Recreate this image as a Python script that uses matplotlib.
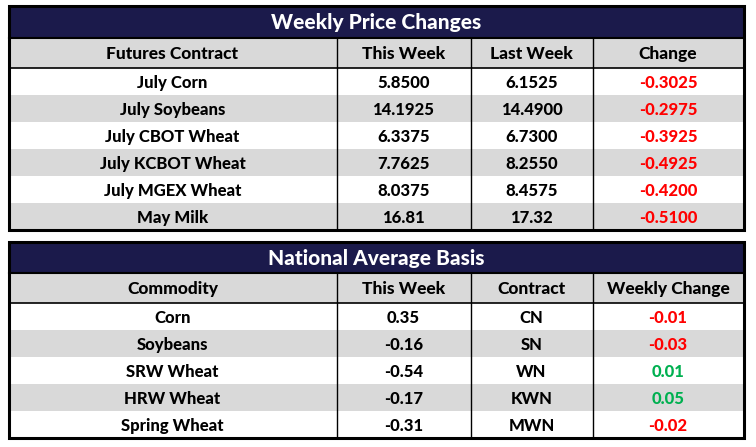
import matplotlib.pyplot as plt
from matplotlib.patches import Rectangle

# table 1 data
t1_title = "Weekly Price Changes"
t1_header = ["Futures Contract", "This Week", "Last Week", "Change"]
t1_contracts = ["July Corn", "July Soybeans", "July CBOT Wheat", "July KCBOT Wheat",
                "July MGEX Wheat", "May Milk"]
t1_this_week = ["5.8500", "14.1925", "6.3375", "7.7625", "8.0375", "16.81"]
t1_last_week = ["6.1525", "14.4900", "6.7300", "8.2550", "8.4575", "17.32"]
t1_change = [-0.3025, -0.2975, -0.3925, -0.4925, -0.4200, -0.5100]

# table 2 data
t2_title = "National Average Basis"
t2_header = ["Commodity", "This Week", "Contract", "Weekly Change"]
t2_commodity = ["Corn", "Soybeans", "SRW Wheat", "HRW Wheat", "Spring Wheat"]
t2_this_week = ["0.35", "-0.16", "-0.54", "-0.17", "-0.31"]
t2_contract = ["CN", "SN", "WN", "KWN", "MWN"]
t2_change = [-0.01, -0.03, 0.01, 0.05, -0.02]

NAVY = "#1b1a4b"
GRAY = "#d9d9d9"
RED = "#ff0000"
GREEN = "#00b050"
FONT = ["Lato", "DejaVu Sans"]
WEIGHT = 900

W, H = 756, 447
fig = plt.figure(figsize=(W / 100, H / 100), dpi=100)
ax = fig.add_axes([0, 0, 1, 1])
ax.set_xlim(0, W)
ax.set_ylim(H, 0)
ax.axis("off")

xcols = [8.5, 336.5, 470.5, 592.5, 743.5]


def draw_table(top, title_h, head_h, row_h, title, header, columns, change_fmt):
    left, right = xcols[0], xcols[-1]
    nrows = len(columns[0])
    # title bar
    ax.add_patch(Rectangle((left, top), right - left, title_h, facecolor=NAVY, edgecolor="none"))
    ax.text((left + right) / 2, top + title_h / 2 + 1, title, color="white", fontsize=15,
            fontweight=WEIGHT, ha="center", va="center", family=FONT)
    # header
    hy = top + title_h
    ax.add_patch(Rectangle((left, hy), right - left, head_h, facecolor=GRAY, edgecolor="none"))
    for i, h in enumerate(header):
        ax.text((xcols[i] + xcols[i + 1]) / 2, hy + head_h / 2 + 1, h, fontsize=12.5,
                fontweight=WEIGHT, ha="center", va="center", family=FONT, color="black")
    # rows
    ry = hy + head_h
    for r in range(nrows):
        y0 = ry + r * row_h
        fc = "white" if r % 2 == 0 else GRAY
        ax.add_patch(Rectangle((left, y0), right - left, row_h, facecolor=fc, edgecolor="none"))
        for c in range(4):
            val = columns[c][r]
            color = "black"
            if c == 3:
                color = RED if val < 0 else GREEN
                val = change_fmt.format(val)
            ax.text((xcols[c] + xcols[c + 1]) / 2, y0 + row_h / 2 + 1.5, val, fontsize=12,
                    fontweight=WEIGHT, ha="center", va="center", family=FONT, color=color)
    bottom = ry + nrows * row_h
    # lines
    ax.plot([left, right], [hy, hy], color="black", lw=1.5)
    ax.plot([left, right], [ry, ry], color="black", lw=1.2)
    for x in xcols[1:-1]:
        ax.plot([x, x], [hy, bottom], color="black", lw=1.0)
    ax.add_patch(Rectangle((left, top), right - left, bottom - top, facecolor="none",
                           edgecolor="black", lw=2.2))


draw_table(6, 32, 30, 27, t1_title, t1_header,
           [t1_contracts, t1_this_week, t1_last_week, t1_change], "{:.4f}")
draw_table(241.5, 31.5, 30, 27, t2_title, t2_header,
           [t2_commodity, t2_this_week, t2_contract, t2_change], "{:.2f}")

fig.savefig("out.png", dpi=100)
